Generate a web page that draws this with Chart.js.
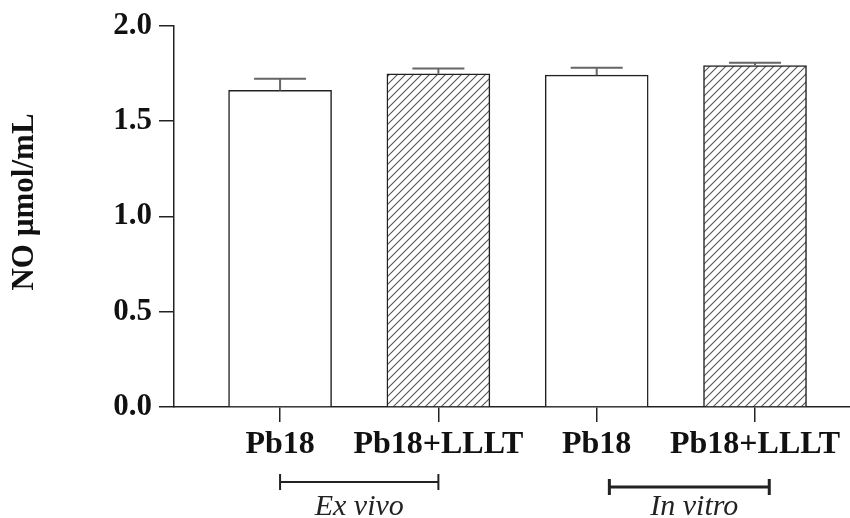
<!DOCTYPE html>
<html><head><meta charset="utf-8">
<script src="https://cdn.jsdelivr.net/npm/chart.js@4.4.1/dist/chart.umd.min.js"></script>
<style>html,body{margin:0;padding:0;background:#fff}#wrap{width:850px;height:518px}</style>
</head><body><div id="wrap"><canvas id="c"></canvas></div>
<script>
const categories = ["Pb18", "Pb18+LLLT", "Pb18", "Pb18+LLLT"];
const means = [1.66, 1.747, 1.74, 1.791];
const errors = [0.061, 0.028, 0.039, 0.014];
const hatched = [false, true, false, true];
const groups = ["Ex vivo", "In vitro"];
const groupFrom = [0, 2.08];
const groupTo = [1, 3.09];
const yTicks = [0, 0.5, 1.0, 1.5, 2.0];
const yTitle = "NO µmol/mL";

const SERIF = 'Liberation Serif, Times New Roman, Times, serif';

function hatchPattern() {
  const s = 8;
  const c = document.createElement('canvas'); c.width = s; c.height = s;
  const x = c.getContext('2d');
  x.fillStyle = '#fff'; x.fillRect(0, 0, s, s);
  x.strokeStyle = '#555'; x.lineWidth = 1.1;
  x.beginPath();
  x.moveTo(-1, s + 1); x.lineTo(s + 1, -1);
  x.moveTo(-1, 1); x.lineTo(1, -1);
  x.moveTo(s - 1, s + 1); x.lineTo(s + 1, s - 1);
  x.stroke();
  return x.createPattern(c, 'repeat');
}
const ctx = document.getElementById('c').getContext('2d');
const pat = hatchPattern();

const errPlugin = {
  id: 'err',
  afterDatasetsDraw(chart) {
    const { ctx, scales: { x, y } } = chart;
    ctx.save();
    ctx.strokeStyle = '#666'; ctx.lineWidth = 2;
    means.forEach((m, i) => {
      const px = x.getPixelForValue(i);
      const top = y.getPixelForValue(m + errors[i]);
      const base = y.getPixelForValue(m);
      ctx.beginPath();
      ctx.moveTo(px, base); ctx.lineTo(px, top);
      ctx.moveTo(px - 26, top); ctx.lineTo(px + 26, top);
      ctx.stroke();
    });
    ctx.restore();
  }
};
const groupPlugin = {
  id: 'groups',
  afterDraw(chart) {
    const { ctx, scales: { x } } = chart;
    ctx.save();
    ctx.strokeStyle = '#222';
    ctx.fillStyle = '#222';
    groups.forEach((g, i) => {
      const x1 = x.getPixelForValue(groupFrom[i]);
      const x2 = x.getPixelForValue(groupTo[i]);
      const yy = i === 0 ? 482 : 487;
      ctx.lineWidth = i === 0 ? 2 : 3;
      ctx.beginPath();
      ctx.moveTo(x1, yy); ctx.lineTo(x2, yy);
      ctx.moveTo(x1, yy - 8); ctx.lineTo(x1, yy + 8);
      ctx.moveTo(x2, yy - 8); ctx.lineTo(x2, yy + 8);
      ctx.stroke();
      ctx.font = 'italic 30px ' + SERIF;
      ctx.textAlign = 'center'; ctx.textBaseline = 'alphabetic';
      ctx.fillText(g, (x1 + x2) / 2 + (i === 0 ? 0 : 5), 515);
    });
    // y-axis title
    ctx.fillStyle = '#111';
    ctx.font = 'bold 31px ' + SERIF;
    ctx.translate(25, 202);
    ctx.rotate(-Math.PI / 2);
    ctx.textAlign = 'center'; ctx.textBaseline = 'middle';
    ctx.fillText(yTitle, 0, 0);
    ctx.restore();
  }
};

new Chart(ctx, {
  type: 'bar',
  data: {
    datasets: [{
      data: means.map((m, i) => ({ x: i, y: m })),
      backgroundColor: hatched.map(h => h ? pat : '#fff'),
      borderColor: '#222',
      borderWidth: 1.5,
      borderSkipped: 'bottom',
      barThickness: 103
    }]
  },
  options: {
    responsive: true, maintainAspectRatio: false, animation: false,
    layout: { padding: { top: 25, right: 0, left: 0, bottom: 0 } },
    plugins: { legend: { display: false }, tooltip: { enabled: false } },
    scales: {
      x: {
        type: 'linear', min: -0.67, max: 3.6, offset: false,
        afterFit: s => { s.height = 111; },
        afterBuildTicks: s => { s.ticks = categories.map((c, i) => ({ value: i })); },
        ticks: {
          callback: v => categories[v],
          color: '#111', font: { family: SERIF, weight: 'bold', size: 32 },
          padding: 4, maxRotation: 0, autoSkip: false
        },
        grid: { drawOnChartArea: false, offset: false, tickLength: 15, color: '#222', lineWidth: 1.5 },
        border: { color: '#222', width: 1.5 }
      },
      y: {
        min: 0, max: 2,
        afterFit: s => { s.width = 174; },
        afterBuildTicks: s => { s.ticks = yTicks.map(v => ({ value: v })); },
        ticks: {
          callback: v => v.toFixed(1),
          color: '#111', font: { family: SERIF, weight: 'bold', size: 31 },
          padding: 7
        },
        grid: { drawOnChartArea: false, tickLength: 15, color: '#222', lineWidth: 1.5 },
        border: { color: '#222', width: 1.5 }
      }
    }
  },
  plugins: [errPlugin, groupPlugin]
});
</script></body></html>
